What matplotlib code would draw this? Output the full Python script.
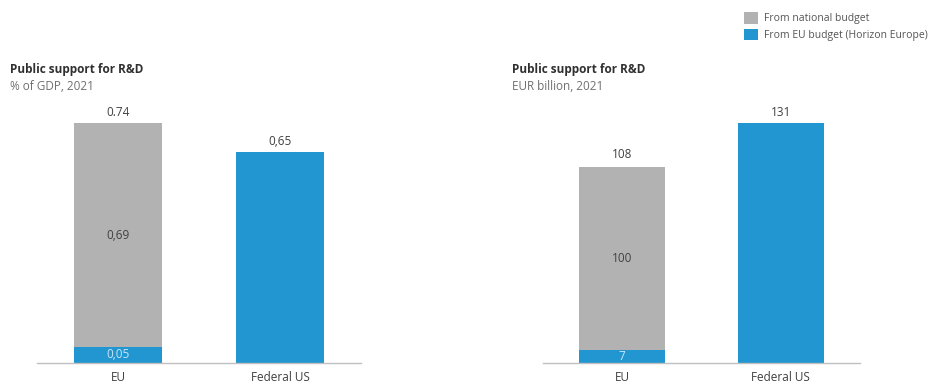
import matplotlib
matplotlib.use('Agg')
import matplotlib.pyplot as plt

plt.rcParams['font.family'] = ['Open Sans', 'DejaVu Sans']

categories = ['EU', 'Federal US']
# % of GDP, 2021
gdp_national = [0.69, 0]
gdp_eu = [0.05, 0.65]
gdp_totals = [0.74, 0.65]
gdp_total_labels = ['0.74', '0,65']
gdp_national_labels = ['0,69', '']
gdp_eu_labels = ['0,05', '']
# EUR billion, 2021
eur_national = [100, 0]
eur_eu = [7, 131]
eur_totals = [108, 131]
eur_total_labels = ['108', '131']
eur_national_labels = ['100', '']
eur_eu_labels = ['7', '']

GREY = '#b2b2b2'
BLUE = '#2196d1'
TXT = '#404040'

W, H = 940, 383
fig = plt.figure(figsize=(W / 100, H / 100), dpi=100)


def px_axes(x0, x1, ytop, ybot):
    return fig.add_axes([x0 / W, 1 - ybot / H, (x1 - x0) / W, (ybot - ytop) / H])


def panel(ax, national, eu, totals, tot_lab, nat_lab, eu_lab, ymax):
    x = range(len(categories))
    b1 = ax.bar(x, eu, width=0.54, color=BLUE, label='From EU budget (Horizon Europe)')
    b2 = ax.bar(x, national, width=0.54, bottom=eu, color=GREY, label='From national budget')
    ax.set_xlim(-0.5, 1.5)
    ax.set_ylim(0, ymax)
    for i in x:
        ax.annotate(tot_lab[i], (i, totals[i]), xytext=(0, 3), textcoords='offset points',
                    ha='center', va='bottom', fontsize=8.5, color=TXT)
        if nat_lab[i]:
            ax.text(i, eu[i] + national[i] / 2, nat_lab[i], ha='center', va='center',
                    fontsize=8.5, color=TXT)
        if eu_lab[i]:
            ax.text(i, eu[i] / 2, eu_lab[i], ha='center', va='center',
                    fontsize=8.5, color='#c8e6f7')
    ax.set_xticks(list(x))
    ax.set_xticklabels(categories, fontsize=8.5, color=TXT)
    ax.tick_params(axis='x', length=0, pad=6)
    ax.set_yticks([])
    for s in ['top', 'left', 'right']:
        ax.spines[s].set_visible(False)
    ax.spines['bottom'].set_color('#c0c0c0')
    ax.spines['bottom'].set_linewidth(1)
    return b2, b1


ax1 = px_axes(37, 361, 100, 363)
ax2 = px_axes(543, 860, 100, 363)
h = panel(ax1, gdp_national, gdp_eu, gdp_totals, gdp_total_labels,
          gdp_national_labels, gdp_eu_labels, 263 / 324)
panel(ax2, eur_national, eur_eu, eur_totals, eur_total_labels,
      eur_national_labels, eur_eu_labels, 263 / 1.832)

fig.text(10 / W, 1 - 69 / H, 'Public support for R&D', fontsize=8.5, fontweight='bold',
         color='#303030', va='center')
fig.text(10 / W, 1 - 86 / H, '% of GDP, 2021', fontsize=8.5, color='#707070', va='center')
fig.text(512 / W, 1 - 69 / H, 'Public support for R&D', fontsize=8.5, fontweight='bold',
         color='#303030', va='center')
fig.text(512 / W, 1 - 86 / H, 'EUR billion, 2021', fontsize=8.5, color='#707070', va='center')

fig.legend(handles=list(h), loc='upper left', bbox_to_anchor=(740 / W, 1 - 8 / H),
           frameon=False, fontsize=7.5, labelcolor='#555555', handlelength=1.3,
           handleheight=1.3, handletextpad=0.6, labelspacing=0.45, borderaxespad=0)

fig.savefig('out.png', dpi=100)
